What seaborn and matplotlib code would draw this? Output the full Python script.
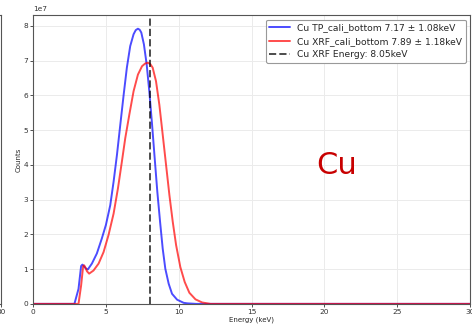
import matplotlib
matplotlib.use("Agg")
import matplotlib.pyplot as plt
import seaborn as sns
import numpy as np
import pandas as pd

# Energy spectra (keV, counts in units of 1e7)
tp_energy = [0.0, 2.84, 3.12, 3.30, 3.39, 3.50, 3.62, 3.76, 4.04, 4.38, 4.72,
             5.00, 5.30, 5.53, 5.76, 5.99, 6.22, 6.44, 6.67, 6.90, 7.05, 7.20,
             7.32, 7.43, 7.61, 7.80, 7.98, 8.17, 8.35, 8.53, 8.72, 8.90, 9.08,
             9.31, 9.54, 9.89, 10.34, 10.6, 11.2, 30.0]
tp_counts = [0.0, 0.0, 0.43, 1.09, 1.13, 1.08, 1.02, 0.99, 1.16, 1.45, 1.88,
             2.27, 2.84, 3.52, 4.29, 5.16, 6.02, 6.80, 7.42, 7.76, 7.88, 7.92,
             7.89, 7.81, 7.47, 6.89, 6.12, 5.16, 4.19, 3.23, 2.36, 1.59, 1.01,
             0.58, 0.29, 0.12, 0.03, 0.015, 0.0, 0.0]

xrf_energy = [0.0, 3.12, 3.30, 3.44, 3.51, 3.60, 3.70, 3.85, 4.15, 4.50, 4.84,
              5.18, 5.53, 5.83, 6.10, 6.33, 6.61, 6.90, 7.20, 7.48, 7.70, 7.89,
              8.05, 8.21, 8.44, 8.67, 8.90, 9.13, 9.36, 9.59, 9.82, 10.11, 10.41,
              10.73, 11.15, 11.61, 12.18, 30.0]
xrf_counts = [0.0, 0.0, 0.53, 1.09, 1.11, 1.04, 0.94, 0.87, 0.96, 1.16, 1.49,
              1.98, 2.60, 3.33, 4.10, 4.77, 5.45, 6.12, 6.60, 6.84, 6.92, 6.94,
              6.90, 6.80, 6.41, 5.73, 4.87, 4.00, 3.13, 2.36, 1.69, 1.06, 0.63,
              0.32, 0.13, 0.04, 0.0, 0.0]

cu_line = 8.05
tp_label = "Cu TP_cali_bottom 7.17 ± 1.08keV"
xrf_label = "Cu XRF_cali_bottom 7.89 ± 1.18keV"
line_label = f"Cu XRF Energy: {cu_line:.2f}keV"
x_ticks = [0, 5, 10, 15, 20, 25, 30]
y_ticks = [0, 1, 2, 3, 4, 5, 6, 7, 8]

sns.set_theme(style="ticks")
plt.rcParams["font.family"] = ["DejaVu Sans"]

tp = pd.DataFrame({"E": tp_energy, "C": np.array(tp_counts) * 1e7})
xrf = pd.DataFrame({"E": xrf_energy, "C": np.array(xrf_counts) * 1e7})

fig = plt.figure(figsize=(4.72, 3.25), dpi=100)
box = [0.07, 0.065, 0.926, 0.889]


def style_axes(a):
    a.tick_params(labelsize=5.3, length=2, width=0.6, pad=1.5, colors="#333333")
    for s in a.spines.values():
        s.set_color("#555555")
        s.set_linewidth(0.8)


# neighbouring panel, only its right edge is in view
left = fig.add_axes([0.003 - 0.926, box[1], 0.926, box[3]])
left.set_xlim(0, 30)
left.set_ylim(0, 1)
left.set_xticks([30])
left.set_yticks([])
style_axes(left)

ax = fig.add_axes(box)
sns.lineplot(data=tp, x="E", y="C", ax=ax, color="blue", alpha=0.7, lw=1.4,
             label=tp_label, estimator=None, sort=False)
sns.lineplot(data=xrf, x="E", y="C", ax=ax, color="red", alpha=0.7, lw=1.4,
             label=xrf_label, estimator=None, sort=False)
ax.axvline(cu_line, color="black", ls="--", lw=1.4, alpha=0.7, label=line_label)

ax.set_xlim(0, 30)
ax.set_ylim(0, max(max(tp_counts), max(xrf_counts)) * 1.05e7)
ax.set_xticks(x_ticks)
ax.set_yticks(np.array(y_ticks) * 1e7)
ax.ticklabel_format(axis="y", style="sci", scilimits=(0, 0))
ax.yaxis.get_offset_text().set_fontsize(5.3)
style_axes(ax)
ax.grid(True, color="#ebebeb", lw=0.7)

ax.set_xlabel("Energy (keV)", fontsize=5, labelpad=1)
ax.set_ylabel("Counts", fontsize=5, labelpad=1)

ax.text(0.695, 0.478, "Cu", transform=ax.transAxes, fontsize=22,
        color="#c80000", ha="center", va="center")

leg = ax.legend(loc="upper right", fontsize=6.6, frameon=True, fancybox=True,
                edgecolor="#999999", framealpha=1.0, handlelength=2.2)
leg.get_frame().set_linewidth(0.8)

fig.savefig("out.png", dpi=100)
